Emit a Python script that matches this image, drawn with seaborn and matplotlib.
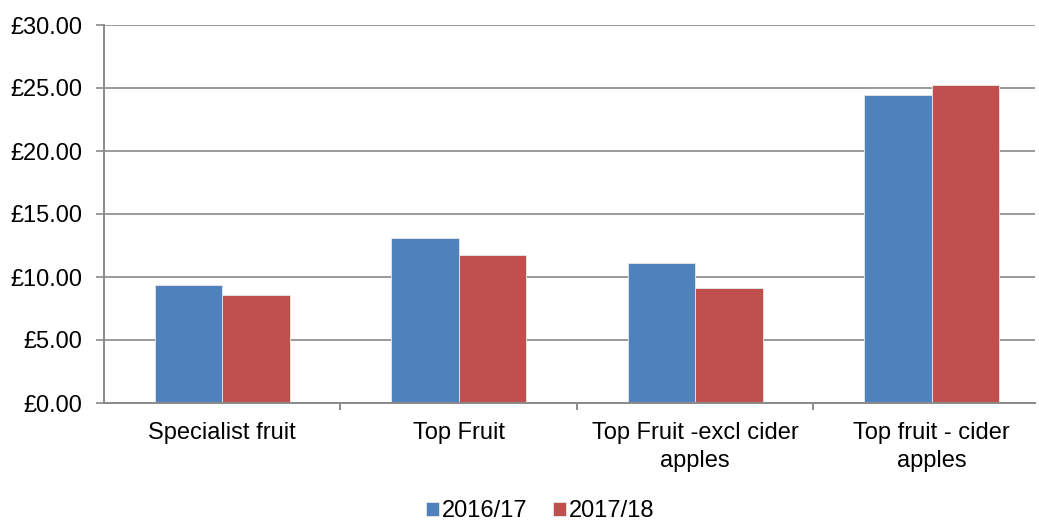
import pandas as pd
import matplotlib.pyplot as plt
import seaborn as sns
from matplotlib.ticker import FixedLocator

categories = ["Specialist fruit", "Top Fruit", "Top Fruit -excl cider\napples", "Top fruit - cider\napples"]
years = ["2016/17", "2017/18"]
values_2016 = [9.38, 13.10, 11.08, 24.48]
values_2017 = [8.60, 11.78, 9.15, 25.25]

df = pd.DataFrame({
    "category": categories * 2,
    "year": [years[0]] * 4 + [years[1]] * 4,
    "value": values_2016 + values_2017,
})

sns.set_style("white")
plt.rcParams["font.family"] = ["Liberation Sans", "DejaVu Sans"]
plt.rcParams["text.color"] = "black"
plt.rcParams["xtick.labelcolor"] = "black"
plt.rcParams["ytick.labelcolor"] = "black"

fig = plt.figure(figsize=(10.39, 5.21), dpi=100)
ax = fig.add_axes([104 / 1039, 118 / 521, 931 / 1039, 378 / 521])

sns.barplot(data=df, x="category", y="value", hue="year", order=categories,
            palette=["#4F81BD", "#C0504D"], width=0.572, ax=ax,
            edgecolor="#e8e8e8", linewidth=0.6, saturation=1, errorbar=None)

ax.set_xlim(-0.5, 3.437)
ax.set_ylim(0, 30)
ax.set_yticks(range(0, 31, 5))
ax.set_yticklabels([f"£{v:.2f}" for v in range(0, 31, 5)], fontsize=17)
ax.yaxis.grid(True, color="#9a9a9a", linewidth=1.4)
ax.set_axisbelow(True)

ax.tick_params(axis="x", which="major", length=0, labelsize=17, pad=14)
for lbl in ax.get_xticklabels():
    lbl.set_linespacing(1.3)
ax.xaxis.set_minor_locator(FixedLocator([0.5, 1.5, 2.5]))
ax.tick_params(axis="x", which="minor", bottom=True, length=5, width=1.4,
               color="#8a8a8a", direction="out")
ax.tick_params(axis="y", left=True, length=5.8, width=1.4, color="#9a9a9a",
               direction="out", pad=10)

for s in ["top", "right"]:
    ax.spines[s].set_visible(False)
for s in ["left", "bottom"]:
    ax.spines[s].set_color("#8a8a8a")
    ax.spines[s].set_linewidth(1.4)

ax.set_xlabel("")
ax.set_ylabel("")

handles, labels = ax.get_legend_handles_labels()
ax.get_legend().remove()
fig.legend(handles, labels, loc="center", bbox_to_anchor=(0.52, 10 / 521),
           ncol=2, frameon=False, fontsize=17, handlelength=0.55, handleheight=0.55,
           handletextpad=0.15, columnspacing=1.05, borderpad=0, borderaxespad=0)

fig.savefig("out.png", dpi=100)
